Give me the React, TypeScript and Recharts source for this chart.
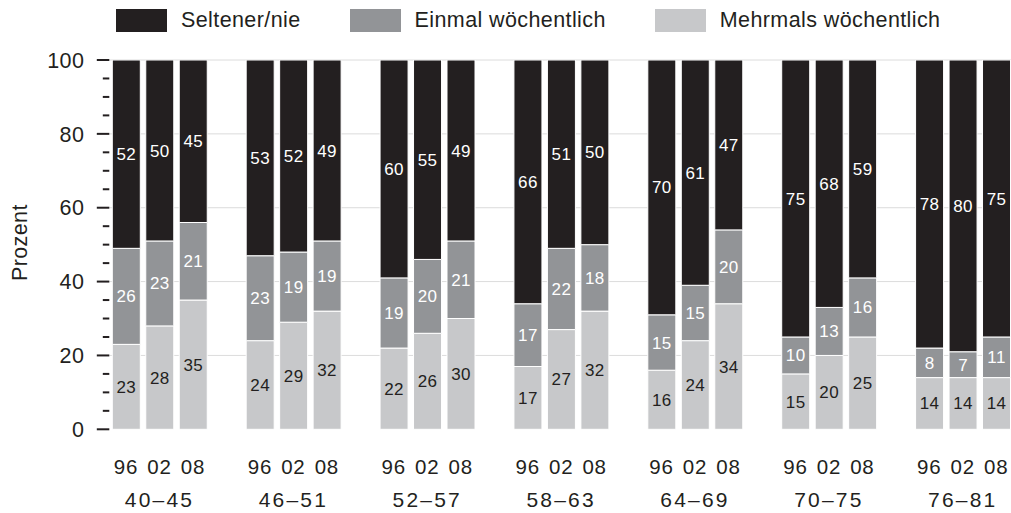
import { BarChart, Bar, XAxis, YAxis, CartesianGrid, LabelList, Legend } from 'recharts'

// ─── Data ─────────────────────────────────────────────────────────────────────

const groups = ['40–45', '46–51', '52–57', '58–63', '64–69', '70–75', '76–81']
const years = ['96', '02', '08']

// per group: 96, 02, 08
const seltener = [52, 50, 45, 53, 52, 49, 60, 55, 49, 66, 51, 50, 70, 61, 47, 75, 68, 59, 78, 80, 75]
const einmal = [26, 23, 21, 23, 19, 19, 19, 20, 21, 17, 22, 18, 15, 15, 20, 10, 13, 16, 8, 7, 11]
const mehrmals = [23, 28, 35, 24, 29, 32, 22, 26, 30, 17, 27, 32, 16, 24, 34, 15, 20, 25, 14, 14, 14]

const yTicks = [0, 5, 10, 15, 20, 25, 30, 35, 40, 45, 50, 55, 60, 65, 70, 75, 80, 85, 90, 95, 100]
const yLabelTicks = [0, 20, 40, 60, 80, 100]

// ─── Style ────────────────────────────────────────────────────────────────────

const BLACK = '#231f20'
const MID = '#929497'
const LIGHT = '#c7c8ca'
const FONT = '"Liberation Sans", Arial, sans-serif'

const legendItems = [
  { name: 'Seltener/nie', color: BLACK },
  { name: 'Einmal wöchentlich', color: MID },
  { name: 'Mehrmals wöchentlich', color: LIGHT },
]

// ─── Table (one spacer slot between age groups) ──────────────────────────────

type Row = { key: string; year: string; group: string; seltener?: number; einmal?: number; mehrmals?: number }

const rows: Row[] = []
groups.forEach((g, gi) => {
  years.forEach((yr, yi) => {
    const i = gi * 3 + yi
    rows.push({
      key: `${g}/${yr}`,
      year: yr,
      group: yi === 1 ? g : '',
      seltener: seltener[i],
      einmal: einmal[i],
      mehrmals: mehrmals[i],
    })
  })
  if (gi < groups.length - 1) rows.push({ key: `gap${gi}`, year: '', group: '' })
})
const rowByKey = new Map(rows.map(r => [r.key, r]))

// ─── Ticks ────────────────────────────────────────────────────────────────────

function XTick({ x, y, payload }: any) {
  const row = rowByKey.get(payload.value)
  if (!row || !row.year) return null
  return (
    <g>
      <text x={x} y={y + 44.5} textAnchor="middle" fill={BLACK} fontSize={20.5} fontFamily={FONT} letterSpacing={0.8}>
        {row.year}
      </text>
      {row.group && (
        <text x={x} y={y + 78} textAnchor="middle" fill={BLACK} fontSize={21} fontFamily={FONT} letterSpacing={2.2}>
          {row.group}
        </text>
      )}
    </g>
  )
}

function YTick({ x, y, payload }: any) {
  const major = yLabelTicks.includes(payload.value)
  return (
    <g>
      <line x1={x - (major ? 12.5 : 6.5)} x2={x} y1={y} y2={y} stroke={BLACK} strokeWidth={2} />
      {major && (
        <text x={x - 25} y={y} dy="0.36em" textAnchor="end" fill={BLACK} fontSize={21.5} fontFamily={FONT} letterSpacing={0.4}>
          {payload.value}
        </text>
      )}
    </g>
  )
}

function YLabel({ viewBox }: any) {
  const cy = viewBox.y + viewBox.height / 2 - 2
  return (
    <text x={27} y={cy} transform={`rotate(-90, 27, ${cy})`} textAnchor="middle" fill={BLACK} fontSize={21.5} fontFamily={FONT} letterSpacing={0.4}>
      Prozent
    </text>
  )
}

function LegendRow() {
  return (
    <div style={{ position: 'relative', height: 0 }}>
      <div style={{ position: 'absolute', left: 116, top: 8, display: 'flex', alignItems: 'center', whiteSpace: 'nowrap' }}>
        {legendItems.map(item => (
          <div key={item.name} style={{ display: 'flex', alignItems: 'center', marginRight: 49 }}>
            <span style={{ display: 'inline-block', width: 51, height: 23, background: item.color, marginRight: 14 }} />
            <span style={{ fontSize: 21.5, fontFamily: FONT, color: BLACK, letterSpacing: 0.4 }}>{item.name}</span>
          </div>
        ))}
      </div>
    </div>
  )
}

const labelStyle = { fontSize: 17, fontFamily: FONT, stroke: 'none', letterSpacing: 0.4 }

// ─── Chart ────────────────────────────────────────────────────────────────────

export default function App() {
  return (
    <div style={{ position: 'fixed', left: 0, top: 0, width: 1011, height: 513, overflow: 'hidden', background: '#fff' }}>
      <BarChart width={1013} height={513} data={rows} margin={{ top: 60, right: 0, bottom: 0, left: 0 }}>
        <CartesianGrid vertical={false} horizontalValues={[20, 40, 60, 80, 100]} stroke="#dcdcdc" />
        <XAxis dataKey="key" height={83.7} axisLine={false} tickLine={false} tickSize={0} tickMargin={0} interval={0} tick={<XTick />} />
        <YAxis
          type="number"
          domain={[0, 100]}
          allowDataOverflow
          ticks={yTicks}
          interval={0}
          width={109.3}
          axisLine={false}
          tickLine={false}
          tickSize={0}
          tickMargin={0}
          tick={<YTick />}
          label={<YLabel />}
        />
        <Legend verticalAlign="top" align="left" wrapperStyle={{ top: 0, left: 0, width: 1011 }} content={() => <LegendRow />} />
        <Bar dataKey="mehrmals" stackId="a" fill={LIGHT} stroke="#fff" strokeWidth={1} barSize={28} isAnimationActive={false}>
          <LabelList dataKey="mehrmals" position="center" fill={BLACK} {...labelStyle} />
        </Bar>
        <Bar dataKey="einmal" stackId="a" fill={MID} stroke="#fff" strokeWidth={1} barSize={28} isAnimationActive={false}>
          <LabelList dataKey="einmal" position="center" fill="#fff" {...labelStyle} />
        </Bar>
        <Bar dataKey="seltener" stackId="a" fill={BLACK} stroke="#fff" strokeWidth={1} barSize={28} isAnimationActive={false}>
          <LabelList dataKey="seltener" position="center" fill="#fff" {...labelStyle} />
        </Bar>
      </BarChart>
    </div>
  )
}
